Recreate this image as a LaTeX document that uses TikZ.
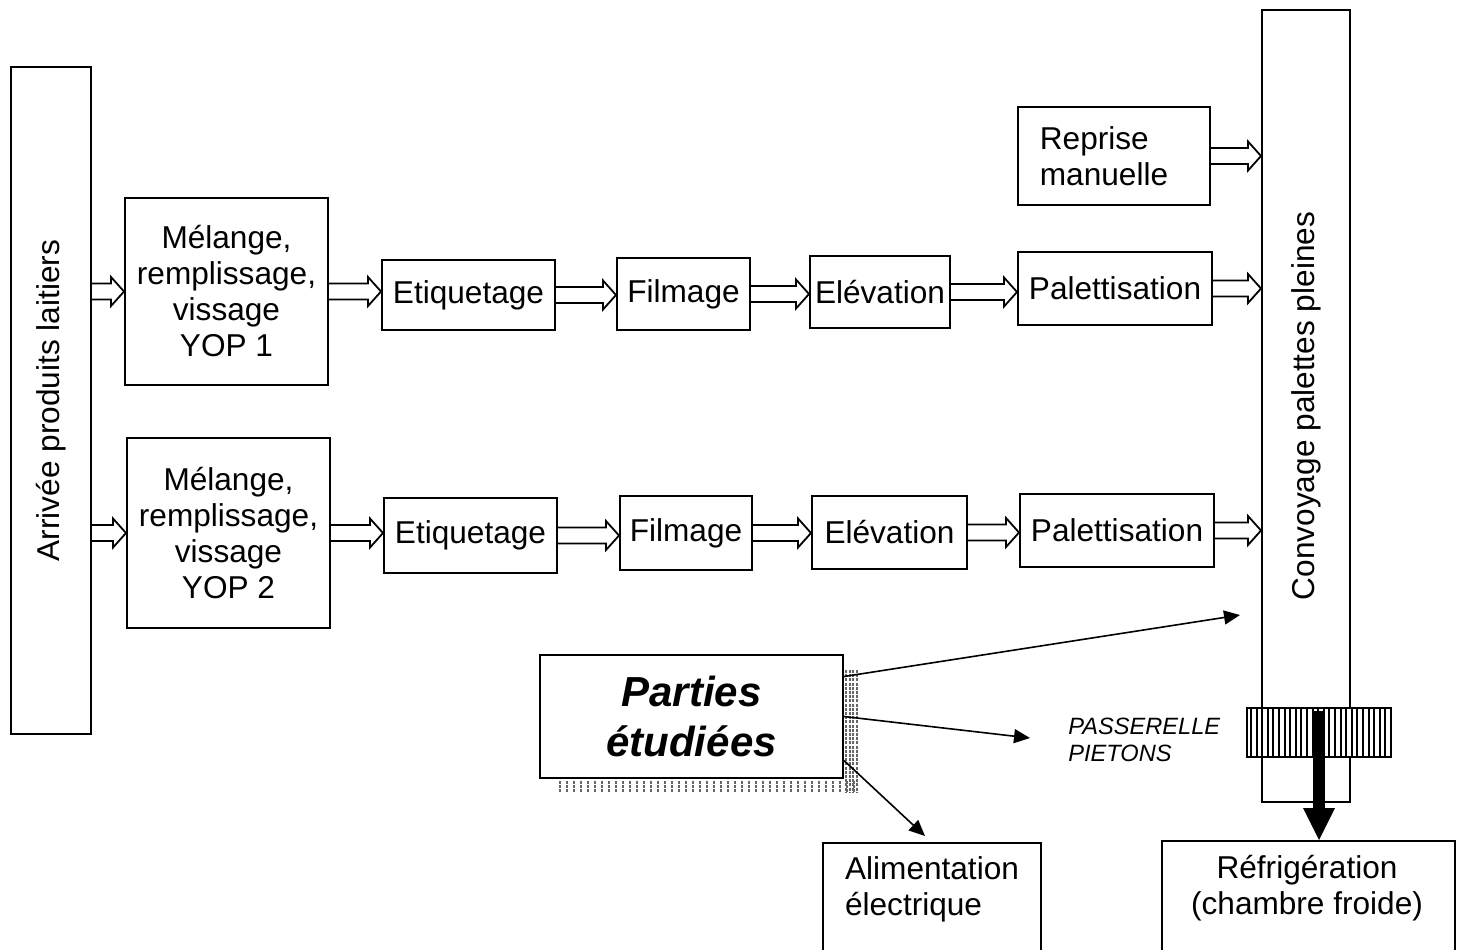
\documentclass[tikz,border=0pt]{standalone}
\usepackage{fontspec}
\setmainfont{Liberation Sans}
\usetikzlibrary{fit,calc,arrows.meta}
\tikzset{
  box/.style={draw, line width=1pt, inner sep=0pt, fill=white},
  txt/.style={inner sep=0pt, align=center, font=\fontsize{15.8}{18}\selectfont},
  lbl/.style={label={[txt]center:#1}},
  harrow/.style={line width=0.9pt, fill=white},
  thinarrow/.style={line width=0.8pt, -{Triangle[length=8pt,width=7pt]}},
}
\newcommand\hollowarrow[2]{%
  \draw[harrow] let \p1=#1, \p2=#2 in
    (\x1,\y1+4pt) -- (\x2-6.5pt,\y1+4pt) -- (\x2-6.5pt,\y1+7.25pt) -- (\x2,\y1)
    -- (\x2-6.5pt,\y1-7.25pt) -- (\x2-6.5pt,\y1-4pt) -- (\x1,\y1-4pt);}
\begin{document}
\begin{tikzpicture}[x=0.5pt,y=-0.5pt]
\useasboundingbox (0,0) rectangle (1459,949);

% arrival
\node[box, fit={(11,67)(91,734)}] (arr) {};
\node[txt, rotate=90] (arrT) at (arr.center) {Arrivée produits laitiers};

% row 1
\node[box, fit={(125,198)(328,385)}, lbl={Mélange,\\remplissage,\\vissage\\YOP 1}] (yop1) {};
\node[box, fit={(382,260)(555,330)}, lbl=Etiquetage] (eti1) {};
\node[box, fit={(617,258)(750,330)}, lbl=Filmage] (film1) {};
\node[box, fit={(810,256)(950,328)}, lbl=Elévation] (elev1) {};
\node[box, fit={(1018,252)(1212,325)}, lbl=Palettisation] (pal1) {};

% row 2
\node[box, fit={(127,438)(330,628)}, lbl={Mélange,\\remplissage,\\vissage\\YOP 2}] (yop2) {};
\node[box, fit={(384,498)(557,573)}, lbl=Etiquetage] (eti2) {};
\node[box, fit={(620,496)(752,570)}, lbl=Filmage] (film2) {};
\node[box, fit={(812,496)(967,569)}, lbl=Elévation] (elev2) {};
\node[box, fit={(1020,494)(1214,567)}, lbl=Palettisation] (pal2) {};

% conveyor
\node[box, fit={(1262,10)(1350,802)}] (conv) {};
\node[txt, rotate=90] (convT) at (conv.center) {Convoyage palettes pleines};

% reprise
\node[box, fit={(1018,107)(1210,205)}] (rep) {};
\node[txt, align=left] (repT) at (1104,156) {Reprise\\manuelle};

% hollow arrows
\hollowarrow{(arr.east |- yop1.west)}{(yop1.west)}
\hollowarrow{(yop1.east)}{(eti1.west)}
\hollowarrow{(eti1.east)}{(film1.west)}
\hollowarrow{(film1.east)}{(elev1.west)}
\hollowarrow{(elev1.east)}{(pal1.west)}
\hollowarrow{(pal1.east)}{(conv.west)}
\hollowarrow{(arr.east |- yop2.west)}{(yop2.west)}
\hollowarrow{(yop2.east)}{(eti2.west)}
\hollowarrow{(eti2.east)}{(film2.west)}
\hollowarrow{(film2.east)}{(elev2.west)}
\hollowarrow{(elev2.east)}{(pal2.west)}
\hollowarrow{(pal2.east)}{(conv.west)}
\hollowarrow{(rep.east)}{(conv.west)}

% shadow of studied parts
\foreach \x in {560,567,...,856} {\draw[black!60, line width=1pt, dash pattern=on 1.5pt off 0.6pt] (\x,781) -- (\x,792);}
\foreach \x in {846,849.5,...,858} {\draw[black!60, line width=1pt, dash pattern=on 1.5pt off 0.6pt] (\x,670) -- (\x,792);}

\node[box, fit={(540,655)(843,778)}, label={[txt, font=\fontsize{21}{25}\bfseries\itshape]center:Parties\\étudiées}] (parts) {};

% free ends
\coordinate (c1) at (1240,615);
\coordinate (c2) at (1030,738);
\coordinate (c3) at (925,836);
\draw[thinarrow] ([yshift=20pt]parts.east) -- (c1);
\draw[thinarrow] (parts.east) -- (c2);
\draw[thinarrow] ([yshift=-22pt]parts.east) -- (c3);

\node[inner sep=0pt, anchor=west, align=left, font=\fontsize{11.8}{13.5}\itshape] (pass) at (1068,740) {PASSERELLE\\PIETONS};

% bottom boxes
\node[box, fit={(823,843)(1041,990)}] (alim) {};
\node[txt, align=left] (alimT) at (932,889) {Alimentation\\électrique};
\node[box, fit={(1162,841)(1455,990)}] (refr) {};
\node[txt] (refrT) at (1307,888) {Réfrigération\\(chambre froide)};

% footbridge hatched box
\node[box, fit={(1247,708)(1391,757)}] (hatch) {};
\foreach \x in {1251,1256.6,...,1389} {\draw[line width=1pt] (\x,708) -- (\x,757);}
\draw[line width=1pt] (1247,708) rectangle (1391,757);

% big black arrow
\fill let \p1=([yshift=-2pt]hatch.north), \p2=(refr.north) in
  (\x1-2.9pt,\y1) -- (\x1-2.9pt,\y2+16pt) -- (\x1-8pt,\y2+16pt) -- (\x1,\y2)
  -- (\x1+8pt,\y2+16pt) -- (\x1+2.9pt,\y2+16pt) -- (\x1+2.9pt,\y1) -- cycle;
\end{tikzpicture}
\end{document}
